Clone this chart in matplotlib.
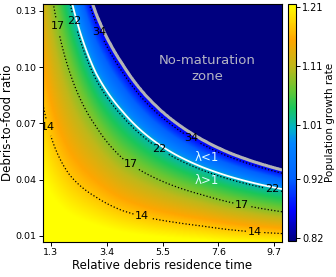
import numpy as np
import matplotlib
matplotlib.use('Agg')
import matplotlib.pyplot as plt
from matplotlib.colors import LinearSegmentedColormap

# ---------------- data ----------------
x_range = (1.0, 10.0)
y_range = (0.0068, 0.1336)
x_ticks = [1.3, 3.4, 5.5, 7.6, 9.7]
x_tick_labels = ['1.3', '3.4', '5.5', '7.6', '9.7']
y_ticks = [0.01, 0.04, 0.07, 0.10, 0.13]
y_tick_labels = ['0.01', '0.04', '0.07', '0.10', '0.13']
cbar_ticks = [0.82, 0.92, 1.01, 1.11, 1.21]
cbar_tick_labels = ['0.82', '0.92', '1.01', '1.11', '1.21']
vmin, vmax = 0.815, 1.215

# residence-time columns at which iso-growth curves were read
col_x = [1, 2, 3, 4, 5, 6, 7, 8, 9, 10]
# growth-rate level -> debris-to-food ratio of that level at each column
lam_levels = [1.215, 1.175, 1.085, 1.015, 1.00, 0.875, 0.86, 0.815]
y_l1215 = [0.040, 0.0213, 0.0154, 0.0117, 0.0098, 0.0086, 0.0077, 0.0067, 0.0061, 0.0057]
y_l1175 = [0.080, 0.0426, 0.0307, 0.0235, 0.0196, 0.0172, 0.0153, 0.0134, 0.0121, 0.0113]
y_l1085 = [0.178, 0.0975, 0.0683, 0.0513, 0.0424, 0.0363, 0.0319, 0.0281, 0.0252, 0.0229]
y_l1015 = [0.251, 0.1351, 0.0933, 0.0736, 0.0604, 0.0514, 0.0451, 0.0403, 0.0367, 0.0338]
y_l1000 = [0.260, 0.1400, 0.0967, 0.0763, 0.0626, 0.0533, 0.0467, 0.0418, 0.0380, 0.0350]
y_l0875 = [0.335, 0.1770, 0.1232, 0.0971, 0.0794, 0.0675, 0.0588, 0.0522, 0.0473, 0.0434]
y_l0860 = [0.350, 0.1850, 0.1287, 0.1015, 0.0830, 0.0705, 0.0614, 0.0545, 0.0494, 0.0453]
y_l0815 = [0.354, 0.1870, 0.1302, 0.1027, 0.0840, 0.0713, 0.0621, 0.0552, 0.0500, 0.0458]
level_curves = [y_l1215, y_l1175, y_l1085, y_l1015, y_l1000, y_l0875, y_l0860, y_l0815]

# contour lines of generation time drawn over the growth-rate field
gen_levels = [0.875, 1.015, 1.085, 1.175]
gen_labels = ['34', '22', '17', '14']
lambda_one = 1.00
boundary_level = 0.86

# ---------------- build the field ----------------
nx, ny = 400, 400
xf = np.linspace(x_range[0], x_range[1], nx)
yf = np.linspace(y_range[0], y_range[1], ny)
lx = np.log(np.array(col_x, float))
curves = np.array([np.exp(np.interp(np.log(xf), lx, np.log(np.array(c))))
                   for c in level_curves])  # (nlev, nx)
lam = np.array(lam_levels)
Z = np.empty((ny, nx))
for i in range(nx):
    Z[:, i] = np.interp(yf, curves[:, i], lam)
X, Y = np.meshgrid(xf, yf)

# ---------------- colormap ----------------
nodes = [(0.815, (0.0, 0.0, 0.5)),
         (0.865, (0.0, 0.0, 1.0)),
         (0.92, (0.0, 0.38, 1.0)),
         (0.98, (0.0, 0.52, 1.0)),
         (1.005, (0.0, 0.70, 0.78)),
         (1.04, (0.1, 0.78, 0.35)),
         (1.07, (0.4, 0.78, 0.2)),
         (1.11, (0.75, 0.72, 0.1)),
         (1.155, (1.0, 0.65, 0.0)),
         (1.215, (1.0, 1.0, 0.0))]
cmap = LinearSegmentedColormap.from_list(
    'growth', [((v - vmin) / (vmax - vmin), c) for v, c in nodes])

# ---------------- figure ----------------
fig = plt.figure(figsize=(3.36, 2.77), dpi=100)
ax = fig.add_axes([43/336, 35/277, 239/336, 238/277])
cax = fig.add_axes([288/336, 36/277, 8/336, 237/277])

im = ax.imshow(Z, origin='lower', extent=[x_range[0], x_range[1], y_range[0], y_range[1]],
               aspect='auto', cmap=cmap, vmin=vmin, vmax=vmax, interpolation='bilinear')

ax.contour(X, Y, Z, levels=[lambda_one], colors='white', linewidths=1.3, zorder=2)
ax.contour(X, Y, Z, levels=[boundary_level], colors='#b4b4b4', linewidths=2.2, zorder=2)

cs = ax.contour(X, Y, Z, levels=gen_levels, colors='k', linestyles=':', linewidths=0.9,
                zorder=3)
lab = {lv: t for lv, t in zip(gen_levels, gen_labels)}
manual = [(1.2, 0.068), (4.73, 0.0201), (8.98, 0.0121),
          (1.53, 0.1217), (4.28, 0.0478), (8.49, 0.0259),
          (2.28, 0.1249), (5.41, 0.0573), (9.62, 0.0345),
          (3.07, 0.1185), (6.54, 0.0611)]
texts = ax.clabel(cs, fmt=lambda v: lab[min(lab, key=lambda k: abs(k - v))],
                  manual=manual, inline=True, inline_spacing=2, fontsize=8, colors='k')
for t in texts:
    t.set_rotation(0)
    t.set_zorder(6)

ax.text(7.18, 0.0992, 'No-maturation\nzone', ha='center', va='center',
        color='#b4b4c4', fontsize=9.5, linespacing=1.25)
ax.text(7.18, 0.052, 'λ<1', ha='center', va='center', color='#e0fbff', fontsize=8.5)
ax.text(7.18, 0.0393, 'λ>1', ha='center', va='center', color='#e0fbff', fontsize=8.5)

ax.set_xlim(*x_range)
ax.set_ylim(*y_range)
ax.set_xticks(x_ticks)
ax.set_xticklabels(x_tick_labels)
ax.set_yticks(y_ticks)
ax.set_yticklabels(y_tick_labels)
ax.tick_params(labelsize=6.8, length=3, width=0.7, pad=1.5)
ax.set_xlabel('Relative debris residence time', fontsize=8.5, labelpad=1.5)
ax.set_ylabel('Debris-to-food ratio', fontsize=8.5)
ax.yaxis.set_label_coords(-0.12, 0.5)

cb = fig.colorbar(im, cax=cax, ticks=cbar_ticks)
cb.ax.set_yticklabels(cbar_tick_labels)
cb.ax.tick_params(labelsize=7, length=3, width=0.7, pad=1.5)
cb.set_label('Population growth rate', fontsize=7.5, labelpad=1)

fig.savefig('out.png', dpi=100)
